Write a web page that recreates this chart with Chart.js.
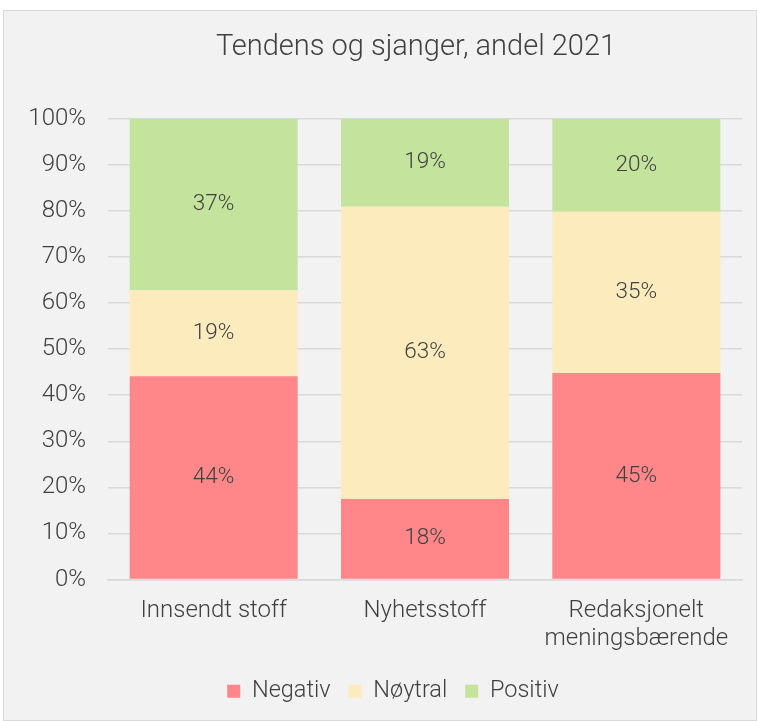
<!DOCTYPE html>
<html lang="no">
<head>
<meta charset="UTF-8">
<title>Tendens og sjanger, andel 2021</title>
<script src="https://cdn.jsdelivr.net/npm/chart.js"></script>
<style>
    body {
        margin: 0;
        background: #ffffff;
    }
    .card {
        position: absolute;
        left: 3px;
        top: 10px;
        width: 752px;
        height: 709px;
        background: #f2f2f2;
        border: 1px solid #d9d9d9;
    }
</style>
</head>
<body>
<div class="card">
    <canvas id="chartCanvas" width="752" height="709"></canvas>
</div>

<script>
const categories = ['Innsendt stoff', 'Nyhetsstoff', ['Redaksjonelt', 'meningsbærende']];
const negativ = [44.1, 17.5, 44.8];
const noytral = [18.7, 63.4, 35.0];
const positiv = [37.2, 19.1, 20.2];
const yTicks = [0, 10, 20, 30, 40, 50, 60, 70, 80, 90, 100];

const textColor = '#404040';
const baseFont = { family: 'Roboto', weight: '300', size: 24 };

// tall midt i hver del av stolpen
const valueLabels = {
    id: 'valueLabels',
    afterDatasetsDraw(chart) {
        const ctx = chart.ctx;
        ctx.save();
        ctx.font = '300 22.5px Roboto';
        ctx.fillStyle = textColor;
        ctx.textAlign = 'center';
        ctx.textBaseline = 'middle';
        chart.data.datasets.forEach((ds, i) => {
            const meta = chart.getDatasetMeta(i);
            meta.data.forEach((bar, j) => {
                const y = (bar.y + bar.base) / 2;
                ctx.fillText(Math.round(ds.data[j]) + '%', bar.x, y);
            });
        });
        ctx.restore();
    }
};

// flytt tittel og forklaring litt til høyre, som i originalen
const shiftBoxes = {
    id: 'shiftBoxes',
    afterLayout(chart) {
        chart.titleBlock.left += 43;
        chart.titleBlock.right += 43;
        chart.legend.left += 20;
        chart.legend.right += 20;
    }
};

new Chart(document.getElementById('chartCanvas'), {
    type: 'bar',
    data: {
        labels: categories,
        datasets: [
            { label: 'Negativ', data: negativ, backgroundColor: '#ff878a' },
            { label: 'Nøytral', data: noytral, backgroundColor: '#fcebbd' },
            { label: 'Positiv', data: positiv, backgroundColor: '#c4e49d' }
        ]
    },
    options: {
        responsive: false,
        animation: false,
        layout: { padding: { left: 0, right: 14, top: 0, bottom: 7 } },
        datasets: { bar: { categoryPercentage: 0.795, barPercentage: 1 } },
        plugins: {
            title: {
                display: true,
                text: 'Tendens og sjanger, andel 2021',
                color: textColor,
                font: { family: 'Roboto', weight: '300', size: 29 },
                padding: { top: 19, bottom: 54 }
            },
            legend: {
                position: 'bottom',
                labels: {
                    color: textColor,
                    font: { family: 'Roboto', weight: '300', size: 23.5 },
                    boxWidth: 13,
                    boxHeight: 13,
                    padding: 18
                }
            },
            tooltip: { enabled: false }
        },
        scales: {
            x: {
                stacked: true,
                grid: { display: false },
                border: { color: '#d9d9d9', width: 1.5 },
                ticks: { color: textColor, font: { ...baseFont, lineHeight: 1.17 }, padding: 9, maxRotation: 0 },
                afterFit(scale) { scale.height = 82; }
            },
            y: {
                stacked: true,
                min: 0,
                max: 100,
                grid: { color: '#d9d9d9', lineWidth: 1.5, drawTicks: false },
                border: { display: false },
                afterBuildTicks(scale) { scale.ticks = yTicks.map(v => ({ value: v })); },
                ticks: {
                    color: textColor,
                    font: baseFont,
                    padding: 22,
                    callback: v => v + '%'
                },
                afterFit(scale) { scale.width = 104; }
            }
        }
    },
    plugins: [valueLabels, shiftBoxes]
});
</script>
</body>
</html>
